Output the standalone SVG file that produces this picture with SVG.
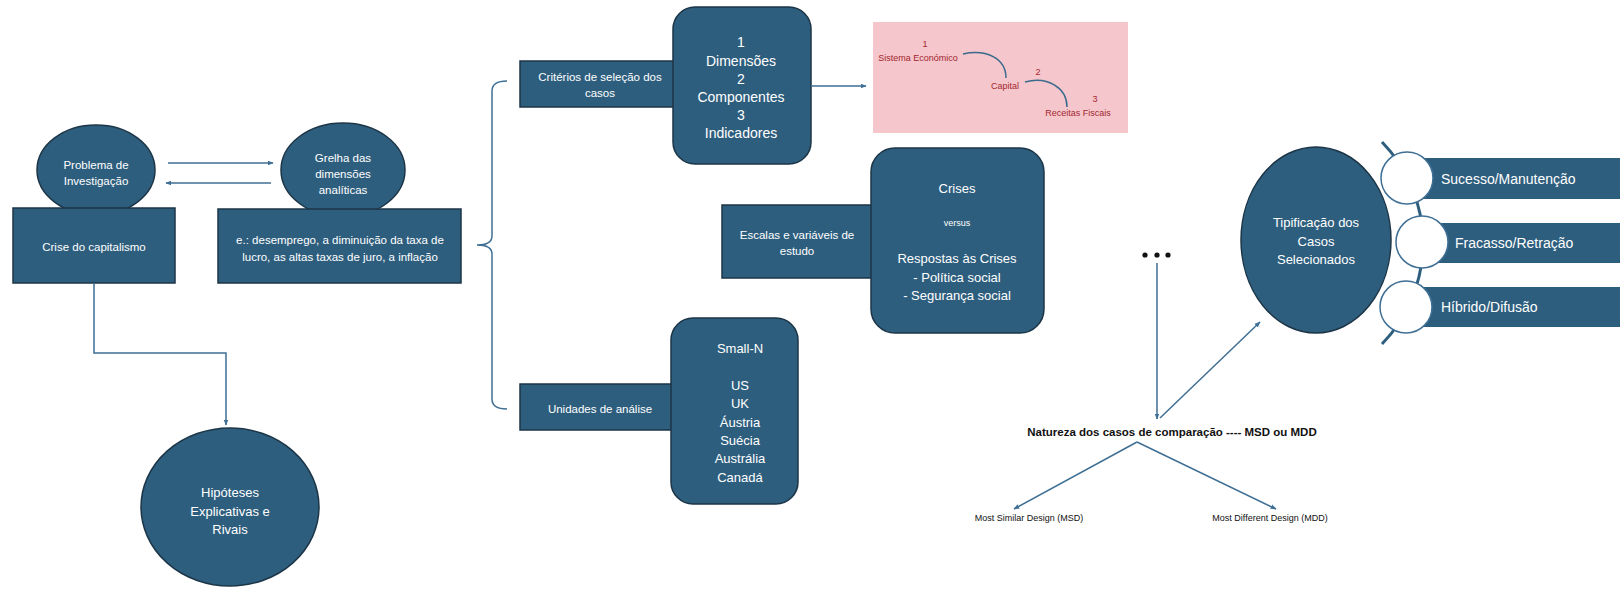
<svg xmlns="http://www.w3.org/2000/svg" width="1620" height="592" viewBox="0 0 1620 592">
<defs>
<style>
.n{fill:#2e5e7e;stroke:#1c3547;stroke-width:1.5}
.t{fill:#fff;font-family:"Liberation Sans",Arial,sans-serif;text-anchor:middle}
.c{fill:none;stroke:#3f6f94;stroke-width:1.5}
.pk{fill:#a3262e;font-family:"Liberation Sans",Arial,sans-serif;text-anchor:middle;font-size:9px}
.k{fill:#111;font-family:"Liberation Sans",Arial,sans-serif;text-anchor:middle}
</style>
<marker id="ah" viewBox="0 0 10 10" refX="9" refY="5" markerWidth="6" markerHeight="6" orient="auto" markerUnits="userSpaceOnUse">
<path d="M0,1 L10,5 L0,9 z" fill="#3f6f94"/>
</marker>
</defs>
<rect width="1620" height="592" fill="#fff"/>

<g id="problema">
<ellipse class="n" cx="96" cy="170" rx="59" ry="45"/>
<text class="t" font-size="11.5" x="96" y="169">Problema de</text>
<text class="t" font-size="11.5" x="96" y="185">Investigação</text>
</g>
<g id="crise">
<rect class="n" x="13" y="208" width="162" height="75"/>
<text class="t" font-size="11.5" x="94" y="251">Crise do capitalismo</text>
</g>
<g id="grelha">
<ellipse class="n" cx="343" cy="170" rx="62" ry="47"/>
<text class="t" font-size="11.5" x="343" y="162">Grelha das</text>
<text class="t" font-size="11.5" x="343" y="178">dimensões</text>
<text class="t" font-size="11.5" x="343" y="194">analíticas</text>
</g>
<g id="exemplos">
<rect class="n" x="218" y="209" width="243" height="74"/>
<text class="t" font-size="11.5" x="340" y="244">e.: desemprego, a diminuição da taxa de</text>
<text class="t" font-size="11.5" x="340" y="261">lucro, as altas taxas de juro, a inflação</text>
</g>
<g id="hipoteses">
<ellipse class="n" cx="230" cy="507" rx="89" ry="79"/>
<text class="t" font-size="13" x="230" y="497">Hipóteses</text>
<text class="t" font-size="13" x="230" y="516">Explicativas e</text>
<text class="t" font-size="13" x="230" y="534">Rivais</text>
</g>

<g id="criterios">
<rect class="n" x="520" y="61" width="160" height="46"/>
<text class="t" font-size="11.5" x="600" y="81">Critérios de seleção dos</text>
<text class="t" font-size="11.5" x="600" y="97">casos</text>
</g>
<g id="dimensoes">
<rect class="n" x="673" y="7" width="138" height="157" rx="22"/>
<text class="t" font-size="14" x="741" y="47">1</text>
<text class="t" font-size="14" x="741" y="66">Dimensões</text>
<text class="t" font-size="14" x="741" y="84">2</text>
<text class="t" font-size="14" x="741" y="102">Componentes</text>
<text class="t" font-size="14" x="741" y="120">3</text>
<text class="t" font-size="14" x="741" y="138">Indicadores</text>
</g>
<g id="escalas">
<rect class="n" x="722" y="205" width="156" height="73"/>
<text class="t" font-size="11.5" x="797" y="239">Escalas e variáveis de</text>
<text class="t" font-size="11.5" x="797" y="255">estudo</text>
</g>
<g id="crises">
<rect class="n" x="871" y="148" width="173" height="185" rx="24"/>
<text class="t" font-size="13" x="957" y="193">Crises</text>
<text class="t" font-size="9" x="957" y="226">versus</text>
<text class="t" font-size="13" x="957" y="263">Respostas às Crises</text>
<text class="t" font-size="13" x="957" y="282">- Política social</text>
<text class="t" font-size="13" x="957" y="300">- Segurança social</text>
</g>
<g id="unidades">
<rect class="n" x="520" y="384" width="158" height="46"/>
<text class="t" font-size="11.5" x="600" y="413">Unidades de análise</text>
</g>
<g id="smalln">
<rect class="n" x="671" y="318" width="127" height="186" rx="22"/>
<text class="t" font-size="13" x="740" y="353">Small-N</text>
<text class="t" font-size="13" x="740" y="390">US</text>
<text class="t" font-size="13" x="740" y="408">UK</text>
<text class="t" font-size="13" x="740" y="427">Áustria</text>
<text class="t" font-size="13" x="740" y="445">Suécia</text>
<text class="t" font-size="13" x="740" y="463">Austrália</text>
<text class="t" font-size="13" x="740" y="482">Canadá</text>
</g>

<g id="sistema">
<rect x="873" y="22" width="255" height="111" fill="#f5c6cc"/>
<text class="pk" x="925" y="47">1</text>
<text class="pk" x="918" y="61">Sistema Económico</text>
<text class="pk" x="1005" y="89">Capital</text>
<text class="pk" x="1038" y="75">2</text>
<text class="pk" x="1095" y="102">3</text>
<text class="pk" x="1078" y="116">Receitas Fiscais</text>
<path d="M963 54 C986 49 1006 58 1006 78" fill="none" stroke="#3a6a8c" stroke-width="1.5"/>
<path d="M1025 82 C1048 76 1067 88 1067 107" fill="none" stroke="#3a6a8c" stroke-width="1.5"/>
</g>

<g id="reticencias">
<circle cx="1145" cy="255" r="2.6" fill="#111"/>
<circle cx="1157" cy="255" r="2.6" fill="#111"/>
<circle cx="1168" cy="255" r="2.6" fill="#111"/>
</g>
<g id="natureza">
<text class="k" font-size="11.5" font-weight="bold" x="1172" y="436">Natureza dos casos de comparação ---- MSD ou MDD</text>
</g>
<g id="msd">
<text class="k" font-size="9" x="1029" y="521">Most Similar Design (MSD)</text>
</g>
<g id="mdd">
<text class="k" font-size="9" x="1270" y="521">Most Different Design (MDD)</text>
</g>

<g id="tipificacao">
<ellipse class="n" cx="1316" cy="240" rx="75" ry="93"/>
<text class="t" font-size="13" x="1316" y="227">Tipificação dos</text>
<text class="t" font-size="13" x="1316" y="246">Casos</text>
<text class="t" font-size="13" x="1316" y="264">Selecionados</text>
</g>
<g id="tipos">
<rect x="1407" y="158" width="213" height="41" fill="#2e5e7e"/>
<rect x="1422" y="223" width="198" height="40" fill="#2e5e7e"/>
<rect x="1406" y="287" width="214" height="40" fill="#2e5e7e"/>
<path d="M1382 142 A145 145 0 0 1 1382 344" fill="none" stroke="#2e5e7e" stroke-width="3"/>
<circle cx="1407" cy="178" r="26" fill="#fff" stroke="#3f6f94" stroke-width="1.5"/>
<circle cx="1422" cy="242" r="26" fill="#fff" stroke="#3f6f94" stroke-width="1.5"/>
<circle cx="1406" cy="307" r="26" fill="#fff" stroke="#3f6f94" stroke-width="1.5"/>
<text fill="#fff" font-family="Liberation Sans, Arial, sans-serif" font-size="14" x="1441" y="184">Sucesso/Manutenção</text>
<text fill="#fff" font-family="Liberation Sans, Arial, sans-serif" font-size="14" x="1455" y="248">Fracasso/Retração</text>
<text fill="#fff" font-family="Liberation Sans, Arial, sans-serif" font-size="14" x="1441" y="312">Híbrido/Difusão</text>
</g>

<g id="connectors">
<line class="c" x1="168" y1="163" x2="273" y2="163" marker-end="url(#ah)"/>
<line class="c" x1="271" y1="183" x2="166" y2="183" marker-end="url(#ah)"/>
<path class="c" d="M94 283 V353 H226 V425" marker-end="url(#ah)"/>
<path class="c" d="M507 81 Q492 81 492 91 V236 Q492 245 477 245 Q492 245 492 254 V399 Q492 409 507 409"/>
<line class="c" x1="811" y1="86" x2="866" y2="86" marker-end="url(#ah)"/>
<line class="c" x1="1157" y1="263" x2="1157" y2="419" marker-end="url(#ah)"/>
<line class="c" x1="1160" y1="418" x2="1260" y2="322" marker-end="url(#ah)"/>
<line class="c" x1="1137" y1="442" x2="1014" y2="509" marker-end="url(#ah)"/>
<line class="c" x1="1137" y1="442" x2="1276" y2="509" marker-end="url(#ah)"/>
</g>
</svg>
